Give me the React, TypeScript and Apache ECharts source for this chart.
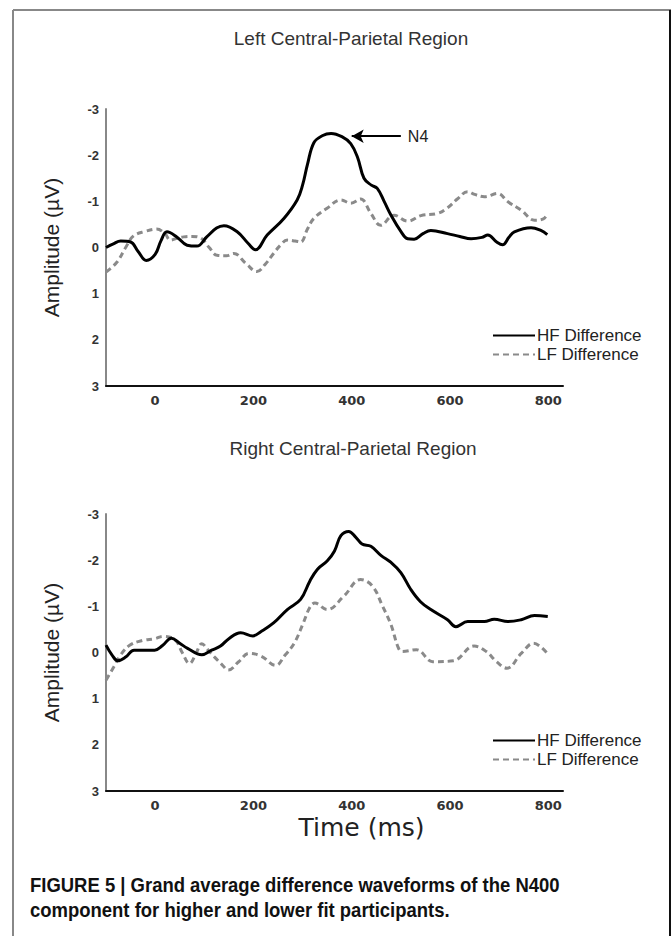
import React, { useEffect, useRef } from "react";
import * as echarts from "echarts";

// ---- Data (time in ms, amplitude in µV) ----
const seriesNames = ["HF Difference", "LF Difference"];
const chartTitles = ["Left Central-Parietal Region", "Right Central-Parietal Region"];
const timeLabels = [0, 200, 400, 600, 800];

const leftHF: [number, number][] = [
  [-100, 0.0], [-85, -0.08], [-70, -0.14], [-50, -0.12], [-35, 0.08], [-18, 0.28], [0, 0.15],
  [12, -0.15], [24, -0.34], [44, -0.23], [65, -0.05], [85, -0.03], [105, -0.23], [125, -0.42],
  [140, -0.47], [167, -0.34], [190, -0.08], [204, 0.05], [228, -0.27], [262, -0.63], [289, -1.03],
  [300, -1.35], [310, -1.8], [323, -2.27], [340, -2.42], [358, -2.47], [380, -2.4], [398, -2.25],
  [412, -1.95], [425, -1.5], [440, -1.35], [452, -1.28], [466, -1.0], [480, -0.7], [500, -0.35],
  [514, -0.19], [527, -0.18], [545, -0.3], [561, -0.37], [595, -0.3], [620, -0.24], [643, -0.19],
  [665, -0.22], [677, -0.27], [695, -0.12], [707, -0.06], [720, -0.22], [731, -0.34], [765, -0.43],
  [785, -0.37], [798, -0.28],
];

const leftLF: [number, number][] = [
  [-100, 0.53], [-78, 0.32], [-60, 0.0], [-44, -0.25], [-20, -0.35], [3, -0.4], [20, -0.3],
  [31, -0.16], [45, -0.2], [58, -0.23], [75, -0.24], [92, -0.21], [110, 0.0], [126, 0.17],
  [145, 0.18], [160, 0.13], [185, 0.35], [207, 0.52], [225, 0.35], [241, 0.13], [255, -0.05],
  [269, -0.16], [285, -0.14], [296, -0.12], [310, -0.4], [323, -0.63], [350, -0.85], [378, -1.03],
  [398, -0.96], [418, -1.05], [439, -0.74], [459, -0.48], [486, -0.7], [514, -0.57], [541, -0.69],
  [575, -0.74], [595, -0.86], [615, -1.05], [636, -1.21], [650, -1.15], [670, -1.1], [697, -1.17],
  [718, -0.99], [745, -0.81], [772, -0.59], [790, -0.62], [799, -0.74],
];

const rightHF: [number, number][] = [
  [-100, -0.16], [-88, 0.05], [-76, 0.18], [-60, 0.1], [-43, -0.05], [-20, -0.05], [-1, -0.05],
  [15, -0.15], [33, -0.31], [50, -0.2], [66, -0.09], [95, 0.05], [115, -0.05], [133, -0.14],
  [150, -0.3], [174, -0.43], [199, -0.36], [215, -0.45], [241, -0.64], [269, -0.93], [296, -1.15],
  [315, -1.55], [330, -1.8], [350, -1.98], [365, -2.2], [378, -2.53], [394, -2.62], [408, -2.5],
  [421, -2.35], [439, -2.3], [460, -2.1], [480, -1.95], [500, -1.73], [520, -1.37], [540, -1.1],
  [561, -0.93], [595, -0.71], [612, -0.56], [636, -0.67], [670, -0.67], [690, -0.72], [718, -0.67],
  [745, -0.71], [772, -0.8], [799, -0.78],
];

const rightLF: [number, number][] = [
  [-100, 0.6], [-84, 0.31], [-70, 0.05], [-51, -0.16], [-26, -0.26], [0, -0.3], [16, -0.35],
  [41, -0.27], [55, 0.0], [70, 0.24], [82, 0.05], [95, -0.19], [108, -0.05], [120, 0.09],
  [135, 0.25], [149, 0.38], [170, 0.2], [191, 0.02], [216, 0.08], [245, 0.28], [265, 0.05],
  [283, -0.2], [300, -0.6], [315, -0.98], [325, -1.07], [350, -0.93], [384, -1.22], [418, -1.58],
  [442, -1.44], [463, -1.0], [480, -0.6], [495, -0.1], [503, -0.02], [532, -0.06], [565, 0.2],
  [607, 0.18], [649, -0.14], [674, -0.02], [695, 0.2], [716, 0.34], [745, 0.02], [770, -0.2],
  [798, 0.02],
];

// N4 peak annotation (arrow from -> to, in data units)
const n4Label = "N4";
const n4Arrow = { fromMs: 500, toMs: 400, amp: -2.41 };

const captionLines = [
  "FIGURE 5 | Grand average difference waveforms of the N400",
  "component for higher and lower fit participants.",
];

export default function App() {
  const ref = useRef<HTMLDivElement>(null);

  useEffect(() => {
    if (!ref.current) return;
    const chart = echarts.init(ref.current, undefined, { renderer: "svg" });

    const gridTops = [109, 514];
    const grids = gridTops.map((top) => ({ left: 106, top, width: 457, height: 277 }));

    const xAxes = [0, 1].map((i) => ({
      type: "value",
      gridIndex: i,
      min: -100,
      max: 830,
      interval: 100,
      axisLine: { show: true, onZero: false, lineStyle: { color: "#111", width: 2 } },
      axisTick: { show: false },
      splitLine: { show: false },
      axisLabel: {
        formatter: (v: number) => (timeLabels.indexOf(v) >= 0 ? String(v) : ""),
        color: "#333",
        fontFamily: "DejaVu Sans",
        fontWeight: "bold",
        fontSize: 13,
        margin: 8,
        showMaxLabel: false,
      },
      name: i === 1 ? "Time (ms)" : "",
      nameLocation: "middle",
      nameGap: 24,
      nameTextStyle: {
        fontFamily: "DejaVu Sans",
        fontSize: 25,
        color: "#222",
        padding: [0, 0, 0, 54],
      },
    }));

    const yAxes = [0, 1].map((i) => ({
      type: "value",
      gridIndex: i,
      min: -3,
      max: 3,
      interval: 1,
      inverse: true,
      axisLine: { show: true, onZero: false, lineStyle: { color: "#888", width: 2 } },
      axisTick: { show: false },
      splitLine: { show: false },
      axisLabel: {
        color: "#333",
        fontFamily: "Liberation Sans",
        fontWeight: "bold",
        fontSize: 13,
        margin: 7,
      },
      name: "Amplitude (µV)",
      nameLocation: "middle",
      nameGap: 44,
      nameTextStyle: { fontFamily: "Liberation Sans", fontSize: 21, color: "#222" },
    }));

    const hfStyle = { color: "#000", width: 3, type: "solid" };
    const lfStyle = { color: "#8a8a8a", width: 3, type: [6, 4] };

    const mkSeries = (name: string, data: [number, number][], idx: number, lineStyle: any, extra: any = {}) => ({
      type: "line",
      name,
      data,
      xAxisIndex: idx,
      yAxisIndex: idx,
      symbol: "none",
      smooth: 0.4,
      color: lineStyle.color,
      lineStyle,
      z: name === seriesNames[0] ? 3 : 2,
      ...extra,
    });

    const legends = [333, 738].map((c) => ({
      orient: "vertical",
      left: 487,
      top: c - 11,
      itemWidth: 42,
      itemHeight: 14,
      itemGap: 2,
      selectedMode: false,
      data: seriesNames,
      itemStyle: { opacity: 0 },
      textStyle: { fontFamily: "Liberation Sans", fontSize: 17, color: "#222", padding: [0, 0, 0, -3] },
    }));

    const option: any = {
      animation: false,
      backgroundColor: "#fff",
      grid: grids,
      xAxis: xAxes,
      yAxis: yAxes,
      legend: legends,
      series: [
        mkSeries(seriesNames[0], leftHF, 0, hfStyle, {
          markLine: {
            silent: true,
            animation: false,
            symbol: ["none", "arrow"],
            symbolSize: [10, 12],
            lineStyle: { color: "#000", width: 2, type: "solid" },
            label: {
              show: true,
              position: "start",
              formatter: n4Label,
              color: "#222",
              fontFamily: "Liberation Sans",
              fontSize: 16,
              distance: 7,
            },
            data: [[{ coord: [n4Arrow.fromMs, n4Arrow.amp] }, { coord: [n4Arrow.toMs, n4Arrow.amp] }]],
          },
        }),
        mkSeries(seriesNames[1], leftLF, 0, lfStyle),
        mkSeries(seriesNames[0], rightHF, 1, hfStyle),
        mkSeries(seriesNames[1], rightLF, 1, lfStyle),
      ],
      graphic: [
        { type: "line", shape: { x1: 13, y1: 10, x2: 671, y2: 10 }, style: { stroke: "#888", lineWidth: 2 } },
        { type: "line", shape: { x1: 13, y1: 10, x2: 13, y2: 936 }, style: { stroke: "#888", lineWidth: 2 } },
        { type: "line", shape: { x1: 670, y1: 10, x2: 670, y2: 936 }, style: { stroke: "#111", lineWidth: 2 } },
        {
          type: "text",
          x: 351,
          y: 38,
          style: { text: chartTitles[0], font: '19px "Liberation Sans"', fill: "#333", textAlign: "center", textVerticalAlign: "middle" },
        },
        {
          type: "text",
          x: 353,
          y: 448,
          style: { text: chartTitles[1], font: '19px "Liberation Sans"', fill: "#333", textAlign: "center", textVerticalAlign: "middle" },
        },
        {
          type: "text",
          x: 30,
          y: 885,
          scaleX: 0.88,
          style: { text: captionLines[0], font: 'bold 21px "Liberation Sans"', fill: "#111", textVerticalAlign: "middle" },
        },
        {
          type: "text",
          x: 30,
          y: 910,
          scaleX: 0.88,
          style: { text: captionLines[1], font: 'bold 21px "Liberation Sans"', fill: "#111", textVerticalAlign: "middle" },
        },
      ],
    };

    chart.setOption(option);
    return () => chart.dispose();
  }, []);

  return (
    <div
      ref={ref}
      style={{ position: "absolute", left: 0, top: 0, width: 671, height: 936, background: "#fff" }}
    />
  );
}
